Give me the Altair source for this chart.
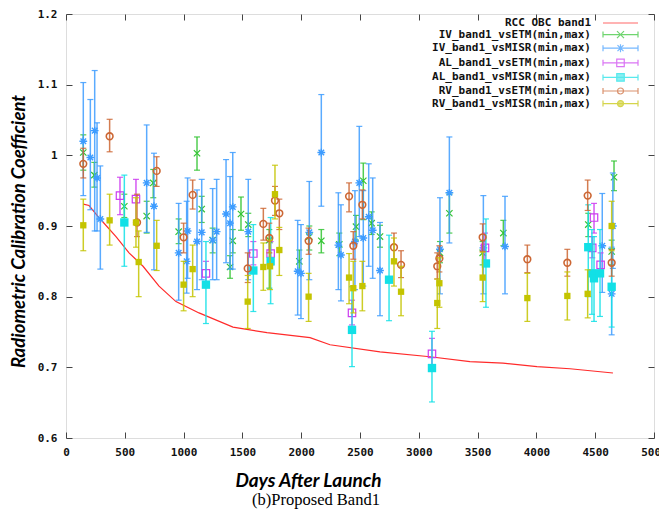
import altair as alt
import pandas as pd

# ---------------- data ----------------
rcc_days = [147, 196, 280, 425, 536, 655, 791, 935, 1131, 1420, 1709, 2075, 2245, 2670, 3095, 3435, 3716, 4005, 4286, 4651]
rcc_vals = [0.931, 0.929, 0.912, 0.885, 0.862, 0.843, 0.815, 0.793, 0.777, 0.757, 0.749, 0.742, 0.732, 0.722, 0.715, 0.708, 0.706, 0.701, 0.698, 0.692]

iv_etm_days = [147, 241, 496, 686, 742, 958, 1114, 1154, 1247, 1395, 1418, 1488, 1550, 1729, 1984, 2069, 2171, 2324, 2466, 2528, 2599, 2670, 3180, 3260, 3543, 3719, 4441, 4640, 4660]
iv_etm_vals = [1.004, 0.972, 0.928, 0.914, 0.961, 0.892, 1.003, 0.924, 0.880, 0.842, 0.879, 0.917, 0.902, 0.880, 0.850, 0.885, 0.879, 0.874, 0.899, 0.964, 0.904, 0.885, 0.862, 0.918, 0.862, 0.890, 0.902, 0.864, 0.969]
iv_etm_lo = [0.979, 0.955, 0.912, 0.890, 0.940, 0.875, 0.979, 0.905, 0.862, 0.826, 0.862, 0.894, 0.885, 0.812, 0.835, 0.866, 0.862, 0.858, 0.880, 0.909, 0.888, 0.870, 0.848, 0.890, 0.845, 0.872, 0.885, 0.845, 0.950]
iv_etm_hi = [1.029, 0.990, 0.945, 0.935, 0.980, 0.910, 1.026, 0.942, 0.897, 0.858, 0.895, 0.941, 0.918, 0.895, 0.866, 0.900, 0.895, 0.890, 0.915, 0.989, 0.920, 0.901, 0.878, 0.945, 0.878, 0.908, 0.918, 0.880, 0.992]

iv_misr_days = [147, 207, 244, 264, 292, 686, 748, 958, 1026, 1034, 1114, 1154, 1247, 1281, 1361, 1395, 1418, 1550, 1970, 1998, 2069, 2171, 2316, 2338, 2457, 2494, 2528, 2574, 2608, 2670, 3180, 3260, 3549, 3733, 4560, 4640, 4650]
iv_misr_vals = [1.020, 0.997, 1.035, 0.968, 0.910, 0.961, 0.928, 0.862, 0.850, 0.893, 0.878, 0.891, 0.880, 0.892, 0.917, 0.904, 0.927, 0.892, 0.836, 0.833, 0.891, 1.004, 0.873, 0.859, 0.878, 0.961, 0.883, 0.913, 0.894, 0.837, 0.867, 0.947, 0.869, 0.871, 0.872, 0.804, 0.900]
iv_misr_lo = [0.943, 0.923, 0.893, 0.893, 0.839, 0.891, 0.838, 0.795, 0.805, 0.826, 0.810, 0.824, 0.824, 0.824, 0.848, 0.839, 0.839, 0.824, 0.774, 0.769, 0.824, 0.928, 0.810, 0.794, 0.810, 0.885, 0.815, 0.843, 0.826, 0.773, 0.804, 0.876, 0.804, 0.804, 0.806, 0.746, 0.840]
iv_misr_hi = [1.103, 1.079, 1.120, 1.046, 0.985, 1.043, 1.003, 0.932, 0.935, 0.968, 0.951, 0.966, 0.953, 0.966, 0.994, 0.970, 1.004, 0.966, 0.908, 0.902, 0.963, 1.086, 0.947, 0.930, 0.950, 1.041, 0.950, 0.988, 0.968, 0.905, 0.940, 1.026, 0.943, 0.942, 0.946, 0.870, 0.975]

al_etm_days = [459, 595, 1190, 1593, 1740, 2432, 3112, 3563, 4475, 4490, 4546]
al_etm_vals = [0.943, 0.938, 0.833, 0.861, 0.861, 0.777, 0.719, 0.869, 0.869, 0.912, 0.845]
al_etm_lo = [0.916, 0.905, 0.815, 0.845, 0.845, 0.760, 0.703, 0.850, 0.855, 0.890, 0.830]
al_etm_hi = [0.969, 0.966, 0.850, 0.878, 0.878, 0.795, 0.741, 0.890, 0.885, 0.932, 0.862]

al_misr_days = [496, 1190, 1593, 1740, 2432, 2747, 3112, 3571, 4441, 4472, 4490, 4541, 4640]
al_misr_vals = [0.905, 0.817, 0.837, 0.850, 0.753, 0.824, 0.699, 0.847, 0.870, 0.833, 0.826, 0.833, 0.814]
al_misr_lo = [0.843, 0.762, 0.779, 0.790, 0.701, 0.766, 0.651, 0.785, 0.800, 0.775, 0.765, 0.772, 0.757]
al_misr_hi = [0.972, 0.878, 0.902, 0.912, 0.814, 0.887, 0.751, 0.910, 0.930, 0.895, 0.885, 0.895, 0.868]

rv_etm_days = [147, 371, 604, 771, 1000, 1077, 1545, 1678, 1729, 1777, 1814, 2063, 2407, 2443, 2520, 2789, 2849, 3157, 3175, 3543, 3923, 4263, 4436, 4640]
rv_etm_vals = [0.988, 1.027, 0.905, 0.978, 0.884, 0.944, 0.840, 0.903, 0.883, 0.936, 0.918, 0.879, 0.942, 0.872, 0.930, 0.870, 0.845, 0.843, 0.854, 0.884, 0.853, 0.848, 0.943, 0.848]
rv_etm_lo = [0.968, 1.005, 0.885, 0.956, 0.862, 0.924, 0.820, 0.880, 0.862, 0.915, 0.895, 0.860, 0.920, 0.853, 0.910, 0.850, 0.827, 0.825, 0.835, 0.864, 0.834, 0.829, 0.922, 0.829]
rv_etm_hi = [1.010, 1.051, 0.945, 0.998, 0.904, 0.965, 0.862, 0.925, 0.904, 0.956, 0.938, 0.897, 0.961, 0.892, 0.951, 0.890, 0.865, 0.862, 0.872, 0.903, 0.873, 0.867, 0.965, 0.867]

rv_misr_days = [147, 371, 595, 618, 771, 1000, 1077, 1545, 1678, 1735, 1777, 1814, 2063, 2407, 2443, 2520, 2789, 2849, 3157, 3175, 3543, 3923, 4263, 4436, 4640]
rv_misr_vals = [0.901, 0.908, 0.905, 0.849, 0.872, 0.817, 0.839, 0.793, 0.842, 0.843, 0.945, 0.866, 0.800, 0.827, 0.812, 0.815, 0.850, 0.807, 0.791, 0.819, 0.827, 0.798, 0.801, 0.804, 0.900]
rv_misr_lo = [0.865, 0.873, 0.870, 0.800, 0.837, 0.780, 0.800, 0.755, 0.809, 0.810, 0.910, 0.830, 0.765, 0.790, 0.777, 0.780, 0.815, 0.773, 0.755, 0.785, 0.793, 0.765, 0.767, 0.770, 0.865]
rv_misr_hi = [0.938, 0.945, 0.940, 0.893, 0.908, 0.850, 0.873, 0.830, 0.876, 0.880, 0.986, 0.898, 0.833, 0.861, 0.850, 0.850, 0.883, 0.843, 0.825, 0.855, 0.863, 0.833, 0.835, 0.838, 0.935]

series_names = ["RCC OBC band1", "IV_band1_vsETM(min,max)", "IV_band1_vsMISR(min,max)",
                "AL_band1_vsETM(min,max)", "AL_band1_vsMISR(min,max)",
                "RV_band1_vsETM(min,max)", "RV_band1_vsMISR(min,max)"]
series_colors = ["#ff2a2a", "#33c433", "#3d9cff", "#cc3cf0", "#12e0e6", "#cc6633", "#c4c400"]

x_ticks = [0, 500, 1000, 1500, 2000, 2500, 3000, 3500, 4000, 4500, 5000]
y_ticks = [0.6, 0.7, 0.8, 0.9, 1.0, 1.1, 1.2]

# ---------------- tables ----------------
rcc_df = pd.DataFrame({"day": rcc_days, "val": rcc_vals})

obs = [
    (series_names[1], iv_etm_days, iv_etm_vals, iv_etm_lo, iv_etm_hi),
    (series_names[2], iv_misr_days, iv_misr_vals, iv_misr_lo, iv_misr_hi),
    (series_names[3], al_etm_days, al_etm_vals, al_etm_lo, al_etm_hi),
    (series_names[4], al_misr_days, al_misr_vals, al_misr_lo, al_misr_hi),
    (series_names[5], rv_etm_days, rv_etm_vals, rv_etm_lo, rv_etm_hi),
    (series_names[6], rv_misr_days, rv_misr_vals, rv_misr_lo, rv_misr_hi),
]
obs_df = pd.concat([
    pd.DataFrame({"series": n, "day": d, "val": v, "lo": lo, "hi": hi})
    for n, d, v, lo, hi in obs
], ignore_index=True)

# ---------------- styling ----------------
MONO = "DejaVu Sans Mono"
TITLEFONT = "Lato"
xscale = alt.Scale(domain=[0, 5000], nice=False)
yscale = alt.Scale(domain=[0.6, 1.2], nice=False, zero=False)

xaxis = alt.Axis(title="Days After Launch", orient="bottom", values=x_ticks, format="d",
                 offset=-6, tickSize=6, domain=False, grid=False, labelPadding=8,
                 labelFlush=False, labelOverlap=False,
                 labelFont=MONO, labelFontWeight="bold", labelFontSize=11, labelColor="#111",
                 tickColor="#444", tickWidth=1,
                 titleFont=TITLEFONT, titleFontStyle="italic", titleFontWeight="bold",
                 titleFontSize=19, titleColor="black", titleX=242, titleY=48,
                 titleAlign="center", titleBaseline="middle")
yaxis = alt.Axis(title="Radiometric Calibration Coefficient", orient="left", values=y_ticks,
                 format="~g", offset=-6, tickSize=6, domain=False, grid=False, labelPadding=9,
                 labelFlush=False, labelOverlap=False,
                 labelFont=MONO, labelFontWeight="bold", labelFontSize=11, labelColor="#111",
                 tickColor="#444", tickWidth=1,
                 titleFont=TITLEFONT, titleFontStyle="italic", titleFontWeight="bold",
                 titleFontSize=18.5, titleColor="black", titleX=-53.5, titleY=217,
                 titleAlign="center", titleBaseline="middle", titleAngle=270)
xaxis_top = alt.Axis(title=None, orient="top", values=x_ticks, offset=-6, tickSize=6,
                     labels=False, domain=False, grid=False, tickColor="#444")
yaxis_right = alt.Axis(title=None, orient="right", values=y_ticks, offset=-6, tickSize=6,
                       labels=False, domain=False, grid=False, tickColor="#444")


def X(field="day"):
    return alt.X(f"{field}:Q", scale=xscale, axis=xaxis)


def Y(field):
    return alt.Y(f"{field}:Q", scale=yscale, axis=yaxis)


# marker definitions (data markers)
X_PATH = "M-1,-1L1,1M-1,1L1,-1"
STAR_PATH = "M-1,0H1M0,-1V1M-0.72,-0.72L0.72,0.72M-0.72,0.72L0.72,-0.72"
marker_style = {
    series_names[1]: dict(shape=X_PATH, filled=False, size=40, strokeWidth=1.2),
    series_names[2]: dict(shape=STAR_PATH, filled=False, size=60, strokeWidth=1.4),
    series_names[3]: dict(shape="square", filled=False, size=55, strokeWidth=1.2),
    series_names[4]: dict(shape="square", filled=True, size=70),
    series_names[5]: dict(shape="circle", filled=False, size=45, strokeWidth=1.6),
    series_names[6]: dict(shape="square", filled=True, size=40),
}

# ---------------- layers ----------------
mirror = alt.Chart(rcc_df).mark_line(color=series_colors[0], strokeWidth=1.2).encode(
    x=alt.X("day:Q", scale=xscale, axis=xaxis_top),
    y=alt.Y("val:Q", scale=yscale, axis=yaxis_right),
)

data_layers = []
base = alt.Chart(obs_df)
for name, color in zip(series_names[1:], series_colors[1:]):
    sub = base.transform_filter(alt.datum.series == name)
    data_layers.append(sub.mark_rule(color=color, strokeWidth=1.5, opacity=0.85).encode(
        x=X(), y=Y("lo"), y2="hi"))
    data_layers.append(sub.mark_tick(color=color, orient="horizontal", size=6, thickness=1.2,
                                     opacity=0.85).encode(x=X(), y=Y("lo")))
    data_layers.append(sub.mark_tick(color=color, orient="horizontal", size=6, thickness=1.2,
                                     opacity=0.85).encode(x=X(), y=Y("hi")))
    data_layers.append(sub.mark_point(color=color, opacity=1, **marker_style[name]).encode(
        x=X(), y=Y("val")))

# legend: symbol (line with end caps and marker) drawn to the right of the label
L0, L1, MC = 3.6, 10.6, 7.1
CAP = f"M{L0},0H{L1}M{L0},-0.6V0.6M{L1},-0.6V0.6"
legend_paths = [
    f"M{L0},0H{L1}",
    CAP + f"M{MC-0.7},-0.7L{MC+0.7},0.7M{MC-0.7},0.7L{MC+0.7},-0.7",
    CAP + f"M{MC-0.8},0H{MC+0.8}M{MC},-0.8V0.8M{MC-0.6},-0.6L{MC+0.6},0.6M{MC-0.6},0.6L{MC+0.6},-0.6",
    CAP + f"M{MC-0.75},-0.75H{MC+0.75}V0.75H{MC-0.75}Z",
    CAP + f"M{MC-0.75},-0.75H{MC+0.75}V0.75H{MC-0.75}Z",
    CAP + f"M{MC+0.6},0A0.6,0.6 0 1,1 {MC-0.6},0A0.6,0.6 0 1,1 {MC+0.6},0Z",
    CAP + f"M{MC+0.6},0A0.6,0.6 0 1,1 {MC-0.6},0A0.6,0.6 0 1,1 {MC+0.6},0Z",
]
legend_fills = ["transparent", "transparent", "transparent", "transparent",
                series_colors[4], "transparent", series_colors[6]]

leg = alt.Legend(title=None, orient="none", legendX=513, legendY=3, labelAlign="right",
                 labelOffset=0, symbolOffset=0, labelFont=MONO, labelFontWeight="bold",
                 labelFontSize=11, labelColor="#111", symbolSize=100, symbolStrokeWidth=1.2,
                 rowPadding=0.6, padding=0, labelLimit=400, labelBaseline="middle")
legend_df = pd.DataFrame({"series": series_names})
legend_layer = alt.Chart(legend_df).transform_filter("false").mark_point(filled=False).encode(
    shape=alt.Shape("series:N", scale=alt.Scale(domain=series_names, range=legend_paths), legend=leg),
    stroke=alt.Stroke("series:N", scale=alt.Scale(domain=series_names, range=series_colors), legend=leg),
    fill=alt.Fill("series:N", scale=alt.Scale(domain=series_names, range=legend_fills), legend=leg),
)

inner = alt.layer(*data_layers, legend_layer)

chart = alt.layer(mirror, inner).resolve_axis(x="independent", y="independent").properties(
    width=588, height=424,
    autosize=alt.AutoSizeParams(type="none"),
    padding={"left": 58, "top": 6, "right": 5, "bottom": 71},
    title=alt.TitleParams(text="(b)Proposed Band1", orient="bottom", font="Liberation Serif",
                          fontSize=16.5, fontWeight="normal", color="black", dx=-44, offset=2,
                          anchor="middle"),
).configure_view(stroke="#555", strokeWidth=1.3).configure(background="white")

chart.save("out.html", embed_options={"renderer": "svg", "actions": False})
